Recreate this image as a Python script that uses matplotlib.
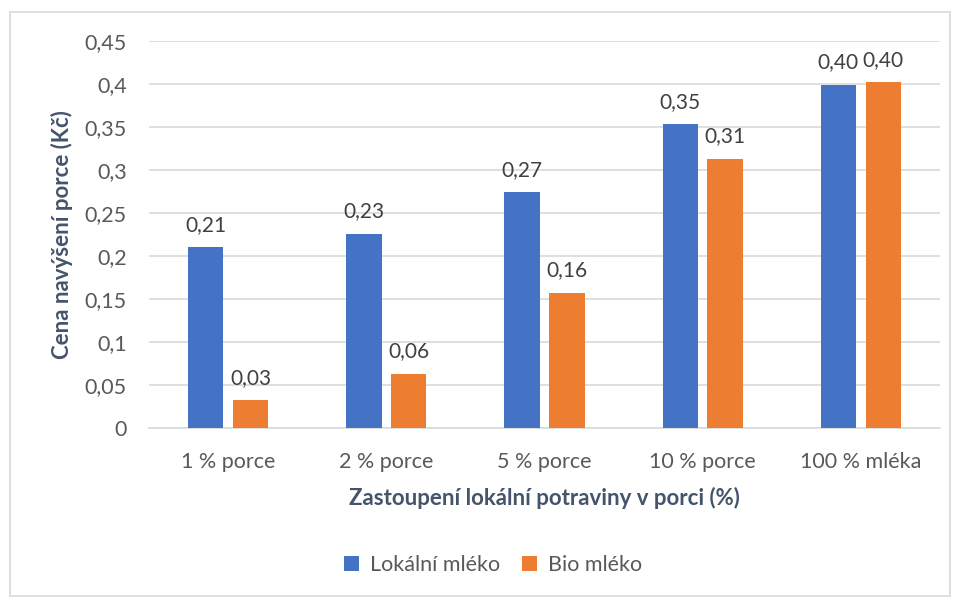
import matplotlib
matplotlib.use("Agg")
import matplotlib.pyplot as plt
import numpy as np
from matplotlib.patches import Rectangle

categories = ["1 % porce", "2 % porce", "5 % porce", "10 % porce", "100 % mléka"]
lokalni = [0.210, 0.226, 0.274, 0.353, 0.399]
bio = [0.032, 0.063, 0.157, 0.313, 0.402]
series_names = ["Lokální mléko", "Bio mléko"]
yticks = [0, 0.05, 0.1, 0.15, 0.2, 0.25, 0.3, 0.35, 0.4, 0.45]

plt.rcParams['font.family'] = ['Lato', 'DejaVu Sans']
W, H = 954, 599
fig = plt.figure(figsize=(W/100, H/100), dpi=100)
fig.patch.set_facecolor('white')
fig.patches.append(Rectangle((10/W, 3/H), 940/W, 584/H, transform=fig.transFigure,
                             fill=False, edgecolor='#d9d9d9', linewidth=1.2))

ax = fig.add_axes([149/W, 1-428/H, (940-149)/W, (428-41)/H])
x = np.arange(len(categories))
w = 0.224
off = 0.142
c1, c2 = '#4472C4', '#ED7D31'
b1 = ax.bar(x - off, lokalni, w, color=c1, label=series_names[0], zorder=3)
b2 = ax.bar(x + off, bio, w, color=c2, label=series_names[1], zorder=3)

def fmt(v):
    return f"{v:.2f}".replace('.', ',')

for bars, vals in ((b1, lokalni), (b2, bio)):
    for b, v in zip(bars, vals):
        ax.annotate(fmt(v), (b.get_x() + b.get_width()/2, v), xytext=(0, 9),
                    textcoords='offset points', ha='center', va='bottom',
                    fontsize=15, color='#404040')

ax.set_xlim(-0.5, len(categories) - 0.5)
ax.set_ylim(0, 0.45)
ax.set_yticks(yticks)
ax.set_yticklabels([("0" if t == 0 else f"{t:g}".replace('.', ',')) for t in yticks])
ax.set_xticks(x)
ax.set_xticklabels(categories)
ax.tick_params(axis='both', length=0, labelsize=15.5, labelcolor='#595959')
ax.tick_params(axis='y', pad=16)
ax.tick_params(axis='x', pad=17)
ax.grid(axis='y', color='#d9d9d9', linewidth=1.2, zorder=0)
for s in ['top', 'right', 'left']:
    ax.spines[s].set_visible(False)
ax.spines['bottom'].set_color('#d9d9d9')
ax.spines['bottom'].set_linewidth(1.2)

ax.set_ylabel("Cena navýšení porce (Kč)", fontsize=16, fontweight='bold', color='#44546A', labelpad=8)
ax.set_xlabel("Zastoupení lokální potraviny v porci (%)", fontsize=16, fontweight='bold', color='#44546A', labelpad=11)

fig.legend(handles=[b1, b2], loc='center', bbox_to_anchor=(493/W, 1-565/H), ncol=2,
           frameon=False, fontsize=15.5, handlelength=0.7, handleheight=0.7,
           columnspacing=1.0, handletextpad=0.5, labelcolor='#595959')

fig.savefig("out.png", dpi=100)
